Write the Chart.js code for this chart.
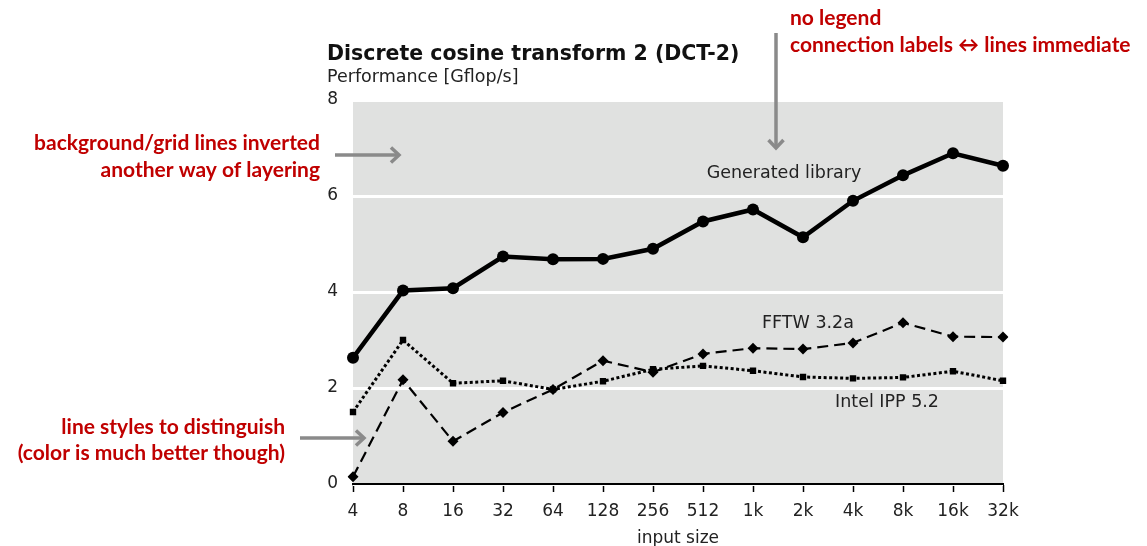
<!DOCTYPE html>
<html>
<head>
<meta charset="utf-8">
<script src="https://cdn.jsdelivr.net/npm/chart.js@4/dist/chart.umd.min.js"></script>
<style>
html,body{margin:0;padding:0;background:#fff;}
canvas{display:block;}
</style>
</head>
<body>
<canvas id="c" width="1147" height="546"></canvas>
<script>
const categories = ["4","8","16","32","64","128","256","512","1k","2k","4k","8k","16k","32k"];
const generatedLibrary = [2.63,4.03,4.08,4.74,4.68,4.69,4.90,5.47,5.72,5.14,5.90,6.43,6.89,6.63];
const fftw = [0.15,2.17,0.89,1.49,1.97,2.57,2.33,2.71,2.83,2.81,2.94,3.36,3.07,3.06];
const intelIpp = [1.50,3.00,2.10,2.15,1.97,2.14,2.39,2.46,2.36,2.23,2.20,2.22,2.35,2.15];
const yTicks = [0,2,4,6,8];
const seriesLabels = ["Generated library","FFTW 3.2a","Intel IPP 5.2"];

const TXT = "#222";
const CHART_FONT = "DejaVu Sans";
const RED = "#c00000";
const ARROW = "#8a8a8a";

const bgPlugin = {
  id: "bg",
  beforeDraw(chart) {
    const {ctx, chartArea:a} = chart;
    ctx.save();
    ctx.fillStyle = "#e0e1e0";
    ctx.fillRect(a.left, a.top, a.right - a.left, a.bottom - a.top);
    ctx.restore();
  }
};

function arrow(ctx, x1, y1, x2, y2) {
  ctx.save();
  ctx.strokeStyle = ARROW;
  ctx.lineWidth = 3.5;
  ctx.lineCap = "butt";
  ctx.beginPath();
  ctx.moveTo(x1, y1);
  ctx.lineTo(x2, y2);
  ctx.stroke();
  const ang = Math.atan2(y2 - y1, x2 - x1);
  const h = 11;
  ctx.beginPath();
  ctx.moveTo(x2 - h * Math.cos(ang - 0.75), y2 - h * Math.sin(ang - 0.75));
  ctx.lineTo(x2, y2);
  ctx.lineTo(x2 - h * Math.cos(ang + 0.75), y2 - h * Math.sin(ang + 0.75));
  ctx.stroke();
  ctx.restore();
}

const annoPlugin = {
  id: "anno",
  afterDraw(chart) {
    const {ctx} = chart;
    ctx.save();
    // title
    ctx.fillStyle = "#111";
    ctx.textBaseline = "middle";
    ctx.textAlign = "left";
    ctx.font = "bold 20.5px '" + CHART_FONT + "'";
    ctx.fillText("Discrete cosine transform 2 (DCT-2)", 327, 55);
    ctx.fillStyle = TXT;
    ctx.font = "17.5px '" + CHART_FONT + "'";
    ctx.fillText("Performance [Gflop/s]", 327, 77);

    // series labels
    ctx.textAlign = "center";
    ctx.font = "17.5px '" + CHART_FONT + "'";
    ctx.fillText(seriesLabels[0], 784, 173);
    ctx.fillText(seriesLabels[1], 808, 323);
    ctx.fillText(seriesLabels[2], 887, 402);

    // red annotations
    ctx.fillStyle = RED;
    ctx.font = "bold 21px Lato";
    ctx.textAlign = "left";
    ctx.fillText("no legend", 790, 18);
    ctx.fillText("connection labels \u2194 lines immediate", 790, 45);
    ctx.textAlign = "right";
    ctx.fillText("background/grid lines inverted", 320, 143);
    ctx.fillText("another way of layering", 320, 170);
    ctx.fillText("line styles to distinguish", 285, 427);
    ctx.fillText("(color is much better though)", 285, 453);
    ctx.restore();

    arrow(ctx, 776, 33, 776, 148);
    arrow(ctx, 335, 155, 399, 155);
    arrow(ctx, 300, 438, 364, 438);
  }
};

new Chart(document.getElementById("c"), {
  type: "line",
  data: {
    labels: categories,
    datasets: [
      {
        label: seriesLabels[0],
        data: generatedLibrary,
        borderColor: "#000",
        backgroundColor: "#000",
        borderWidth: 4.5,
        pointStyle: "circle",
        pointRadius: 6,
        pointBorderWidth: 0,
        tension: 0
      },
      {
        label: seriesLabels[1],
        data: fftw,
        borderColor: "#000",
        backgroundColor: "#000",
        borderWidth: 2.2,
        borderDash: [11, 6],
        pointStyle: "rectRot",
        pointRadius: 5.5,
        pointBorderWidth: 0,
        tension: 0
      },
      {
        label: seriesLabels[2],
        data: intelIpp,
        borderColor: "#000",
        backgroundColor: "#000",
        borderWidth: 3,
        borderDash: [3, 2.5],
        pointStyle: "rect",
        pointRadius: 4.5,
        pointBorderWidth: 0,
        tension: 0
      }
    ]
  },
  options: {
    responsive: false,
    animation: false,
    events: [],
    layout: { padding: { left: 0, top: 100, right: 144, bottom: 0 } },
    plugins: {
      legend: { display: false },
      title: { display: false },
      tooltip: { enabled: false }
    },
    scales: {
      x: {
        type: "category",
        offset: false,
        afterFit(s) { s.height = 62; },
        grid: {
          drawOnChartArea: false,
          drawTicks: true,
          tickLength: 8,
          tickWidth: 1.5,
          tickColor: "#000"
        },
        border: { display: true, color: "#000", width: 2 },
        ticks: {
          color: TXT,
          font: { family: CHART_FONT, size: 17 },
          padding: 9,
          maxRotation: 0,
          autoSkip: false
        },
        title: {
          display: true,
          text: "input size",
          color: TXT,
          font: { family: CHART_FONT, size: 17 },
          padding: { top: 0, bottom: -3 }
        }
      },
      y: {
        min: 0,
        max: 8,
        afterFit(s) { s.width = 353; },
        afterBuildTicks(s) { s.ticks = yTicks.map(v => ({ value: v })); },
        grid: {
          drawOnChartArea: true,
          drawTicks: false,
          color: "#ffffff",
          lineWidth: 3
        },
        border: { display: false },
        ticks: {
          color: TXT,
          font: { family: CHART_FONT, size: 17 },
          padding: 15
        }
      }
    }
  },
  plugins: [bgPlugin, annoPlugin]
});
</script>
</body>
</html>
